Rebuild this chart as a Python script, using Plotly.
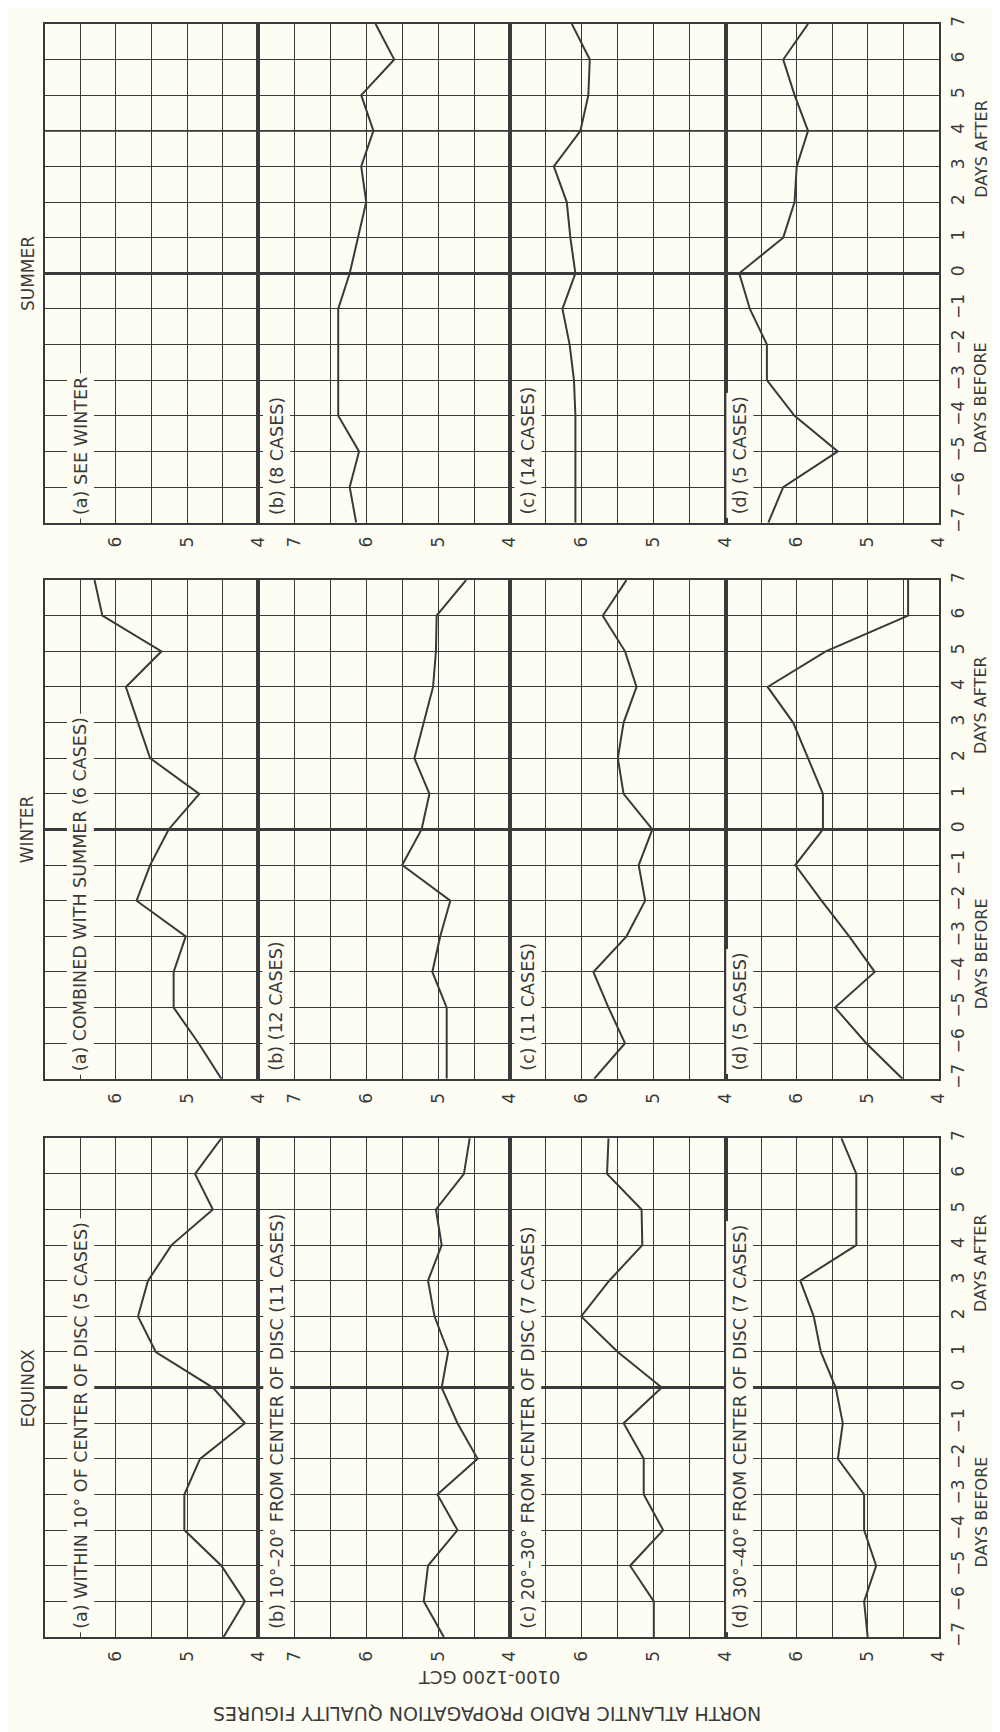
import plotly.graph_objects as go

W, H = 1000, 1732
BG = "#fdfdf3"
INK = "#3a3a3a"
FONT = "DejaVu Sans"

# ---------------- data ----------------
days = list(range(-7, 8))
day_labels = ["−7", "−6", "−5", "−4", "−3", "−2", "−1", "0", "1", "2", "3", "4", "5", "6", "7"]

seasons = ["SUMMER", "WINTER", "EQUINOX"]

panel_titles_summer = ["(a) SEE WINTER", "(b) (8 CASES)", "(c) (14 CASES)", "(d) (5 CASES)"]
panel_titles_winter = ["(a) COMBINED WITH SUMMER (6 CASES)", "(b) (12 CASES)",
                       "(c) (11 CASES)", "(d) (5 CASES)"]
panel_titles_equinox = ["(a) WITHIN 10° OF CENTER OF DISC (5 CASES)",
                        "(b) 10°–20° FROM CENTER OF DISC (11 CASES)",
                        "(c) 20°–30° FROM CENTER OF DISC (7 CASES)",
                        "(d) 30°–40° FROM CENTER OF DISC (7 CASES)"]

# quality figures, days -7 .. 7
summer_a = None
summer_b = [6.14, 6.23, 6.10, 6.39, 6.39, 6.39, 6.39, 6.23, 6.11, 6.00, 6.07, 5.90, 6.07, 5.61, 5.87]
summer_c = [6.09, 6.09, 6.09, 6.09, 6.11, 6.17, 6.27, 6.09, 6.16, 6.21, 6.39, 6.02, 5.91, 5.89, 6.14]
summer_d = [6.40, 6.19, 5.42, 6.03, 6.42, 6.42, 6.66, 6.81, 6.19, 6.03, 6.00, 5.84, 6.03, 6.19, 5.84]

winter_a = [4.52, 4.84, 5.19, 5.19, 5.02, 5.71, 5.52, 5.26, 4.83, 5.52, 5.69, 5.86, 5.36, 6.19, 6.30]
winter_b = [4.88, 4.88, 4.88, 5.08, 4.97, 4.83, 5.50, 5.23, 5.12, 5.33, 5.20, 5.07, 5.03, 5.02, 4.61]
winter_c = [5.83, 5.40, 5.63, 5.84, 5.38, 5.12, 5.21, 5.02, 5.42, 5.50, 5.42, 5.24, 5.40, 5.71, 5.38]
winter_d = [4.51, 5.02, 5.46, 4.90, 5.26, 5.65, 6.02, 5.63, 5.63, 5.84, 6.05, 6.41, 5.59, 4.43, 4.43]

equinox_a = [4.49, 4.19, 4.52, 5.04, 5.04, 4.82, 4.19, 4.64, 5.44, 5.69, 5.55, 5.22, 4.64, 4.89, 4.52]
equinox_b = [4.92, 5.20, 5.14, 4.73, 5.01, 4.45, 4.73, 4.95, 4.86, 5.05, 5.14, 4.95, 5.03, 4.64, 4.56]
equinox_c = [5.00, 5.00, 5.33, 4.87, 5.14, 5.14, 5.42, 4.89, 5.50, 6.01, 5.62, 5.16, 5.17, 5.65, 5.63]
equinox_d = [5.00, 5.05, 4.88, 5.05, 5.05, 5.42, 5.35, 5.45, 5.66, 5.76, 5.95, 5.16, 5.16, 5.16, 5.37]

series = [
    [summer_a, summer_b, summer_c, summer_d],
    [winter_a, winter_b, winter_c, winter_d],
    [equinox_a, equinox_b, equinox_c, equinox_d],
]
titles = [panel_titles_summer, panel_titles_winter, panel_titles_equinox]

value_ticks = [[6, 5, 4], [7, 6, 5, 4], [6, 5, 4], [6, 5, 4]]
value_ranges = [[7, 4], [7.5, 4], [7, 4], [7, 4]]

# ---------------- layout geometry (pixels) ----------------
band_px = [(8, 512), (570, 1074), (1134, 1638)]
col_px = [(37, 253), (253, 507), (507, 725), (725, 940)]
label_cx = [73, 271, 525, 739]

def px_x(p):
    return p / W

def px_y(p):
    return 1 - p / H

fig = go.Figure()
layout = dict(
    width=W, height=H,
    margin=dict(l=0, r=0, t=0, b=0),
    paper_bgcolor=BG, plot_bgcolor=BG,
    showlegend=False,
    font=dict(family=FONT, color=INK, size=17),
)
annotations = []
shapes = []

for bi, season in enumerate(seasons):
    top, bot = band_px[bi]
    for ci in range(4):
        k = bi * 4 + ci + 1
        xa = "xaxis" if k == 1 else f"xaxis{k}"
        ya = "yaxis" if k == 1 else f"yaxis{k}"
        xr = "x" if k == 1 else f"x{k}"
        yr = "y" if k == 1 else f"y{k}"
        l, r = col_px[ci]
        layout[xa] = dict(
            domain=[px_x(l), px_x(r)], anchor=yr,
            range=value_ranges[ci],
            tickvals=value_ticks[ci], ticktext=[str(v) for v in value_ticks[ci]],
            tickangle=-90, ticks="outside", ticklen=5, tickcolor=BG,
            tickfont=dict(family=FONT, size=17, color=INK),
            showgrid=True, gridcolor=INK, gridwidth=1.3,
            minor=dict(tickvals=[4.5, 5.5, 6.5], showgrid=True, gridcolor=INK, gridwidth=1.3),
            showline=True, mirror=True, linecolor=INK, linewidth=2.4,
            zeroline=False, fixedrange=True,
        )
        ydict = dict(
            domain=[px_y(bot), px_y(top)], anchor=xr,
            range=[-7, 7], tickvals=days,
            showgrid=True, gridcolor=INK, gridwidth=1.3,
            zeroline=True, zerolinecolor=INK, zerolinewidth=3,
            showline=True, mirror=True, linecolor=INK, linewidth=2.4,
            showticklabels=False, fixedrange=True,
        )
        if ci == 3:
            ydict.update(
                side="right", showticklabels=True, ticktext=day_labels,
                tickangle=-90, ticks="outside", ticklen=3, tickcolor=BG,
                tickfont=dict(family=FONT, size=17, color=INK),
            )
        layout[ya] = ydict

        vals = series[bi][ci]
        if vals is not None:
            fig.add_trace(go.Scatter(
                x=vals, y=days, xaxis=xr, yaxis=yr, mode="lines",
                line=dict(color=INK, width=2), hoverinfo="skip",
            ))
        else:
            # empty panel: keep the grid drawn
            fig.add_trace(go.Scatter(
                x=[], y=[], xaxis=xr, yaxis=yr, mode="lines", hoverinfo="skip",
            ))

        annotations.append(dict(
            text=titles[bi][ci], xref="paper", yref="paper",
            x=px_x(label_cx[ci]), y=px_y(bot - 4),
            xanchor="center", yanchor="bottom", textangle=-90,
            showarrow=False, bgcolor=BG, borderpad=3,
            font=dict(family=FONT, size=17.5, color=INK),
        ))

    # season title
    annotations.append(dict(
        text=season, xref="paper", yref="paper",
        x=px_x(20), y=px_y((top + bot) / 2),
        xanchor="center", yanchor="middle", textangle=-90, showarrow=False,
        font=dict(family=FONT, size=17, color=INK),
    ))
    # days before / after
    yr_d = f"y{bi * 4 + 4}"
    annotations.append(dict(
        text="DAYS BEFORE", xref="paper", yref=yr_d, x=px_x(983), y=-3.5,
        xanchor="center", yanchor="middle", textangle=-90, showarrow=False,
        font=dict(family=FONT, size=16, color=INK),
    ))
    annotations.append(dict(
        text="DAYS AFTER", xref="paper", yref=yr_d, x=px_x(983), y=3.5,
        xanchor="center", yanchor="middle", textangle=-90, showarrow=False,
        font=dict(family=FONT, size=16, color=INK),
    ))

# slightly heavier day-4 line in the summer band
shapes.append(dict(type="line", xref="paper", yref="y2",
                   x0=px_x(37), x1=px_x(940), y0=4, y1=4,
                   line=dict(color=INK, width=1.8), layer="above"))

# axis titles (upside down at the bottom)
annotations.append(dict(
    text="0100-1200 GCT", xref="paper", yref="paper",
    x=px_x(486), y=px_y(1679), xanchor="center", yanchor="middle",
    textangle=180, showarrow=False, font=dict(family=FONT, size=18, color=INK),
))
annotations.append(dict(
    text="NORTH ATLANTIC RADIO PROPAGATION QUALITY FIGURES", xref="paper", yref="paper",
    x=px_x(484), y=px_y(1716), xanchor="center", yanchor="middle",
    textangle=180, showarrow=False, font=dict(family=FONT, size=19, color=INK),
))

layout["annotations"] = annotations
layout["shapes"] = shapes
fig.update_layout(**layout)
fig.write_html("out.html")
